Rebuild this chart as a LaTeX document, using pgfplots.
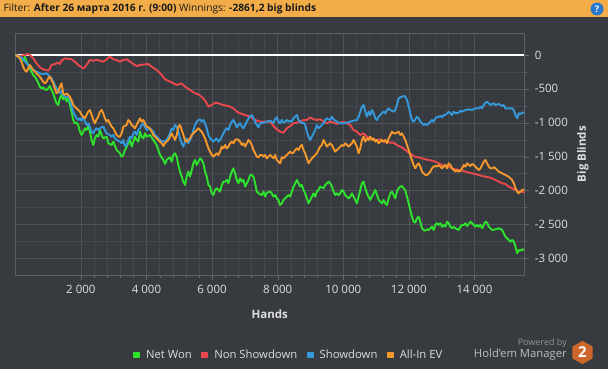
\documentclass[border=0pt]{standalone}
\usepackage{pgfplots}
\pgfplotsset{compat=1.18}
\usepackage{fontspec}
\setmainfont{Open Sans}
\definecolor{bg}{RGB}{55,58,62}
\definecolor{gridmin}{RGB}{68,71,75}
\definecolor{gridmaj}{RGB}{80,83,87}
\definecolor{framec}{RGB}{92,95,99}
\definecolor{tickc}{RGB}{100,103,107}
\definecolor{labc}{RGB}{222,222,222}
\definecolor{hdr}{RGB}{242,173,72}
\definecolor{hdrtext}{RGB}{25,25,25}
\definecolor{qblue}{RGB}{40,120,205}
\definecolor{greenc}{RGB}{46,226,46}
\definecolor{redc}{RGB}{234,72,76}
\definecolor{bluec}{RGB}{52,152,219}
\definecolor{orangec}{RGB}{244,152,45}
\definecolor{logoc}{RGB}{204,102,43}
\definecolor{poweredc}{RGB}{150,150,150}
\definecolor{hmc}{RGB}{190,190,190}
\begin{document}
\begin{tikzpicture}[x=1pt,y=1pt]
\path[use as bounding box] (0,0) rectangle (608,369);
\fill[bg] (0,0) rectangle (608,369);
\fill[hdr] (0,352) rectangle (608,369);
\node[anchor=west, text=hdrtext, font=\fontsize{10.2}{12}\selectfont, inner sep=0pt] at (3.5,360.5) {Filter: \textbf{After 26 марта 2016 г. (9:00)} Winnings: \textbf{-2861,2 big blinds}};
\fill[qblue] (597,360) circle (6.5);
\node[text=white, font=\bfseries\fontsize{9}{9}\selectfont, inner sep=0pt] at (597,360) {?};
\begin{axis}[
  at={(15.3pt,94pt)}, anchor=south west,
  scale only axis, width=509pt, height=241.7pt,
  xmin=0, xmax=15520, ymin=-3246, ymax=320,
  scaled x ticks=false, scaled y ticks=false,
  axis background/.style={fill=bg},
  axis line style={draw=framec},
  xtick={2000,4000,...,14000},
  xticklabels={2 000,4 000,6 000,8 000,10 000,12 000,14 000},
  ytick={-3000,-2500,...,0},
  yticklabels={-3 000,-2 500,-2 000,-1 500,-1 000,-500,0},
  minor x tick num=4, minor y tick num=1,
  grid=both,
  major grid style={draw=gridmaj},
  minor grid style={draw=gridmin},
  tick align=outside, xtick pos=left, ytick pos=right,
  yticklabel pos=right,
  major tick length=5pt, minor tick length=3pt,
  tick style={draw=tickc},
  ticklabel style={font=\fontsize{11.5}{13}\selectfont, text=labc},
  xticklabel style={anchor=center, yshift=-9pt},
  yticklabel style={anchor=west, xshift=2pt},
  xlabel={Hands},
  xlabel style={font=\bfseries\fontsize{11.5}{13}\selectfont, text=labc, at={(axis description cs:0.5,-0.1614)}, anchor=center},
  ylabel={Big Blinds},
  ylabel style={font=\bfseries\fontsize{11.5}{13}\selectfont, text=labc, at={(axis description cs:1.1153,0.5)}, anchor=center},
  legend columns=4,
  legend cell align=left,
  legend style={at={(axis description cs:0.2312,-0.331)}, anchor=west, draw=none, fill=none, inner sep=0pt,
    font=\fontsize{11.3}{13}\selectfont, text=labc, nodes={inner xsep=0pt},
    /tikz/every odd column/.append style={column sep=6pt},
    /tikz/every even column/.append style={column sep=9.5pt}},
  legend image code/.code={\fill[#1] (0pt,-2.5pt) rectangle (5pt,2.5pt);},
  every axis plot/.append style={line width=1.9pt, line join=round, mark=none},
]
\addplot[white, line width=2.2pt, forget plot] coordinates {(0,0) (15520,0)};
% Net Won
\addplot[greenc] coordinates {
(0,0) (87,-25) (188,-49) (239,-84) (290,-25) (341,-99) (392,-148) (443,-197) (494,-246) (545,-295) (596,-320) (646,-359) (697,-408) (748,-467) (799,-492) (850,-477) (901,-507) (952,-517) (1003,-492) (1054,-458) (1105,-517) (1155,-566) (1206,-640) (1257,-713) (1308,-738) (1359,-640) (1410,-590) (1461,-654) (1512,-615) (1563,-689) (1614,-640) (1664,-738) (1715,-836) (1766,-959) (1817,-1008) (1868,-998) (1919,-1033) (1970,-1131) (2021,-1180) (2072,-1131) (2123,-1082) (2173,-1107) (2224,-1048) (2275,-1131) (2326,-1254) (2377,-1328) (2428,-1230) (2479,-1180) (2530,-1205) (2581,-1107) (2632,-1180) (2682,-1230) (2784,-1205) (2835,-1303) (2937,-1328) (2988,-1279) (3090,-1402) (3191,-1451) (3242,-1500) (3293,-1475) (3344,-1402) (3395,-1352) (3446,-1303) (3497,-1254) (3548,-1352) (3599,-1279) (3650,-1205) (3700,-1254) (3751,-1279)
(3801,-1131) (3852,-1205) (3903,-1230) (3954,-1156) (4005,-1205) (4106,-1180) (4208,-1254) (4310,-1328) (4361,-1402) (4412,-1475) (4514,-1549) (4565,-1608) (4615,-1549) (4666,-1525) (4717,-1510) (4768,-1574) (4819,-1475) (4870,-1451) (4921,-1500) (4972,-1623) (5023,-1721) (5074,-1795) (5124,-1869) (5175,-1918) (5226,-1795) (5277,-1721) (5328,-1795) (5379,-1697) (5430,-1598) (5481,-1549) (5532,-1623) (5583,-1574) (5633,-1525) (5684,-1549) (5735,-1598) (5786,-1721) (5837,-1795) (5888,-1918) (5939,-1942) (5990,-2041) (6041,-2066) (6092,-1992) (6142,-1967) (6244,-2016) (6295,-1918) (6346,-1869) (6397,-1869) (6448,-1844) (6499,-1893) (6550,-1795) (6601,-1721) (6651,-1672) (6702,-1746) (6753,-1844) (6804,-1893) (6855,-1820) (6906,-1869) (6957,-1844) (7008,-1942) (7059,-1893) (7110,-1844) (7160,-1770) (7211,-1770) (7262,-1795) (7313,-1893) (7364,-2016) (7415,-2041) (7517,-2066) (7568,-2016) (7619,-2090) (7669,-2031)
(7770,-2016) (7821,-2041) (7872,-2090) (7923,-2066) (7974,-2115) (8025,-2139) (8075,-2213) (8126,-2188) (8177,-2139) (8228,-2115) (8279,-2090) (8330,-2066) (8381,-2090) (8432,-2016) (8483,-1942) (8534,-1893) (8584,-1844) (8635,-1893) (8686,-1942) (8737,-1918) (8788,-1992) (8839,-2041) (8890,-2115) (8941,-2188) (8992,-2139) (9043,-2090) (9093,-2041) (9144,-2090) (9195,-2016) (9246,-1992) (9297,-1942) (9399,-1967) (9450,-1918) (9552,-1869) (9602,-1893) (9653,-1942) (9704,-2016) (9755,-2066) (9806,-2041) (9857,-2066) (9908,-2041) (9959,-1992) (10010,-2016) (10061,-2066) (10111,-2090) (10162,-2115) (10213,-2090) (10264,-2041) (10315,-2090) (10366,-2139) (10417,-2188) (10468,-2090) (10519,-1992) (10570,-1893) (10620,-1869) (10671,-1967) (10722,-2041) (10773,-2090) (10824,-2139) (10875,-2090) (10926,-2041) (10977,-1992) (11028,-2066) (11079,-2139) (11129,-2164) (11180,-2188) (11231,-2139) (11282,-2188) (11333,-2213) (11384,-2115) (11435,-2041) (11486,-2016) (11537,-2066)
(11586,-2115) (11637,-2016) (11688,-1967) (11739,-1942) (11790,-1933) (11841,-1967) (11891,-1992) (11942,-2090) (11993,-2188) (12044,-2287) (12095,-2385) (12146,-2459) (12197,-2473) (12248,-2410) (12299,-2385) (12349,-2459) (12400,-2557) (12451,-2582) (12502,-2592) (12553,-2572) (12604,-2582) (12655,-2557) (12706,-2533) (12757,-2582) (12808,-2508) (12858,-2483) (12909,-2508) (12960,-2483) (13011,-2533) (13062,-2508) (13113,-2533) (13164,-2459) (13215,-2483) (13266,-2533) (13317,-2557) (13367,-2533) (13418,-2557) (13520,-2582) (13571,-2533) (13622,-2508) (13673,-2508) (13724,-2483) (13775,-2523) (13826,-2493) (13876,-2459) (13927,-2483) (13978,-2508) (14029,-2533) (14080,-2508) (14131,-2533) (14182,-2508) (14233,-2557) (14284,-2508) (14335,-2459) (14385,-2473) (14436,-2533) (14487,-2557) (14538,-2582) (14640,-2572) (14742,-2557) (14844,-2582) (14894,-2631) (14945,-2680) (14996,-2705) (15047,-2729) (15098,-2754) (15149,-2729) (15200,-2754) (15251,-2828) (15302,-2926) (15353,-2877) (15403,-2887) (15454,-2867) (15520,-2877)
};
\addlegendentry{Net Won}
% Non Showdown
\addplot[redc] coordinates {
(0,0) (137,-15) (290,0) (392,14) (443,0) (545,-49) (646,-123) (748,-182) (850,-212) (952,-222) (1003,-231) (1054,-197) (1105,-148) (1206,-133) (1308,-113) (1359,-133) (1410,-84) (1512,-49) (1614,-59) (1715,-64) (1817,-99) (1919,-148) (2021,-182) (2092,-197) (2173,-148) (2275,-74) (2377,-84) (2479,-74) (2581,-84) (2682,-99) (2784,-64) (2886,-25) (2988,-64) (3090,-74) (3191,-99) (3293,-74) (3395,-64) (3497,-99) (3599,-133) (3700,-163)
(3801,-148) (4056,-133) (4157,-172) (4310,-222) (4463,-295) (4565,-359) (4717,-394) (4819,-418) (4921,-443) (5074,-418) (5175,-467) (5328,-517) (5481,-566) (5583,-580) (5735,-640) (5837,-713) (5888,-762) (5990,-738) (6092,-703) (6193,-713) (6346,-738) (6499,-753) (6651,-787) (6753,-836) (6855,-861) (7008,-885) (7160,-910) (7313,-959) (7466,-984) (7619,-984)
(7770,-984) (7872,-1048) (7974,-1097) (8075,-1131) (8177,-1146) (8279,-1082) (8381,-1048) (8483,-1008) (8584,-998) (8686,-984) (8788,-959) (8890,-959) (8992,-920) (9093,-949) (9195,-959) (9297,-949) (9399,-984) (9501,-1008) (9602,-984) (9704,-998) (9806,-1018) (9908,-998) (10010,-984) (10111,-1008) (10213,-1033) (10315,-1107) (10417,-1131) (10519,-1180) (10620,-1156) (10722,-1205) (10824,-1230) (10926,-1254) (11028,-1254) (11129,-1244) (11231,-1279) (11333,-1279) (11435,-1293) (11537,-1293)
(11586,-1313) (11688,-1343) (11790,-1362) (11891,-1402) (11993,-1441) (12095,-1475) (12197,-1500) (12299,-1510) (12400,-1525) (12502,-1539) (12604,-1549) (12706,-1559) (12808,-1574) (12909,-1598) (13011,-1623) (13113,-1638) (13215,-1647) (13317,-1672) (13418,-1687) (13520,-1697) (13622,-1706) (13724,-1721) (13826,-1736) (13927,-1746) (14029,-1756) (14131,-1770) (14233,-1785) (14335,-1795) (14436,-1805) (14538,-1820) (14640,-1844) (14742,-1869) (14844,-1893) (14945,-1903) (15047,-1942) (15149,-1967) (15251,-1992) (15353,-2016) (15454,-2016) (15520,-2031)
};
\addlegendentry{Non Showdown}
% Showdown
\addplot[bluec] coordinates {
(0,0) (137,-25) (239,-64) (341,-123) (443,-172) (545,-222) (646,-246) (748,-271) (850,-285) (952,-271) (1003,-295) (1054,-320) (1105,-344) (1155,-394) (1206,-443) (1257,-492) (1308,-541) (1359,-566) (1410,-526) (1461,-590) (1512,-615) (1563,-625) (1614,-605) (1664,-640) (1715,-762) (1766,-836) (1817,-885) (1868,-934) (1919,-959) (1970,-934) (2021,-969) (2072,-910) (2123,-984) (2173,-1033) (2224,-1008) (2275,-1067) (2326,-1131) (2377,-1156) (2428,-1107) (2479,-1082) (2530,-1107) (2581,-1082) (2632,-1067) (2682,-1057) (2733,-1107) (2784,-1156) (2886,-1180) (2937,-1205) (2988,-1180) (3039,-1230) (3090,-1254) (3191,-1279) (3242,-1303) (3293,-1254) (3344,-1343) (3395,-1328) (3446,-1254) (3497,-1205) (3548,-1230) (3599,-1156) (3650,-1131) (3700,-1180) (3751,-1107)
(3801,-1082) (3852,-1033) (3903,-1008) (3954,-1067) (4005,-1107) (4106,-1082) (4208,-1131) (4259,-1180) (4310,-1205) (4412,-1254) (4514,-1279) (4615,-1254) (4717,-1156) (4768,-1082) (4819,-1107) (4870,-1033) (4921,-1057) (4972,-1131) (5023,-1230) (5074,-1303) (5124,-1352) (5175,-1279) (5226,-1230) (5277,-1303) (5328,-1254) (5379,-1205) (5430,-1107) (5481,-1033) (5532,-984) (5583,-959) (5633,-949) (5684,-984) (5735,-959) (5786,-1008) (5837,-1082) (5888,-1180) (5939,-1230) (5990,-1254) (6041,-1279) (6092,-1254) (6142,-1230) (6193,-1279) (6244,-1254) (6295,-1205) (6346,-1156) (6397,-1107) (6448,-1082) (6499,-1107) (6550,-1033) (6601,-984) (6651,-959) (6702,-1008) (6753,-1067) (6804,-1033) (6855,-1008) (6906,-1057) (6957,-1082) (7008,-1033) (7059,-984) (7110,-934) (7160,-910) (7211,-885) (7262,-934) (7313,-984) (7364,-1033) (7415,-1067) (7466,-1008) (7568,-998) (7669,-984)
(7770,-969) (7821,-984) (7872,-998) (7923,-949) (7974,-920) (8025,-984) (8075,-1008) (8126,-959) (8177,-998) (8228,-984) (8279,-959) (8330,-984) (8381,-969) (8432,-984) (8483,-934) (8534,-910) (8584,-885) (8635,-959) (8686,-984) (8737,-1008) (8788,-998) (8839,-1033) (8890,-1131) (8941,-1205) (8992,-1254) (9043,-1205) (9093,-1156) (9144,-1107) (9195,-1033) (9246,-1082) (9297,-1057) (9348,-1033) (9399,-1008) (9450,-959) (9501,-934) (9602,-959) (9653,-910) (9704,-949) (9806,-984) (9908,-1008) (10010,-1008) (10111,-998) (10213,-984) (10315,-969) (10417,-959) (10468,-910) (10519,-836) (10570,-762) (10620,-738) (10671,-836) (10722,-910) (10773,-836) (10824,-885) (10875,-812) (10926,-861) (10977,-934) (11028,-959) (11079,-910) (11129,-885) (11231,-836) (11282,-861) (11333,-812) (11384,-787) (11435,-812) (11537,-836)
(11586,-812) (11637,-738) (11688,-640) (11739,-625) (11790,-615) (11841,-605) (11891,-615) (11942,-664) (11993,-762) (12044,-861) (12095,-959) (12146,-984) (12197,-949) (12248,-910) (12299,-934) (12349,-984) (12400,-1008) (12451,-1033) (12502,-1018) (12553,-1033) (12604,-1008) (12655,-984) (12706,-959) (12757,-984) (12808,-934) (12858,-920) (12909,-910) (12960,-900) (13011,-920) (13062,-885) (13113,-885) (13164,-861) (13215,-836) (13266,-861) (13317,-885) (13367,-836) (13418,-861) (13520,-851) (13571,-822) (13622,-836) (13724,-812) (13826,-802) (13927,-812) (14029,-787) (14131,-787) (14182,-762) (14233,-787) (14284,-738) (14335,-703) (14385,-689) (14436,-713) (14487,-738) (14538,-723) (14589,-713) (14640,-738) (14742,-723) (14844,-753) (14894,-738) (14945,-787) (15047,-787) (15149,-787) (15200,-812) (15251,-885) (15302,-934) (15353,-861) (15403,-871) (15454,-851) (15520,-851)
};
\addlegendentry{Showdown}
% All-In EV
\addplot[orangec] coordinates {
(0,0) (87,-25) (137,-49) (188,-99) (239,-172) (290,-222) (341,-246) (392,-197) (443,-148) (494,-182) (545,-222) (596,-246) (646,-271) (748,-320) (850,-394) (901,-418) (952,-394) (1003,-344) (1054,-320) (1105,-369) (1155,-418) (1206,-492) (1257,-566) (1308,-541) (1359,-467) (1410,-418) (1461,-566) (1512,-590) (1563,-566) (1614,-590) (1664,-615) (1715,-664) (1766,-738) (1817,-762) (1868,-787) (1919,-812) (1970,-836) (2021,-885) (2072,-910) (2123,-934) (2173,-885) (2224,-836) (2275,-812) (2326,-885) (2377,-959) (2428,-1008) (2479,-949) (2530,-910) (2581,-836) (2632,-812) (2682,-861) (2733,-934) (2784,-984) (2835,-959) (2886,-1008) (2937,-1057) (2988,-1082) (3039,-1131) (3090,-1180) (3140,-1205) (3191,-1205) (3242,-1156) (3293,-1057) (3344,-1048) (3395,-1033) (3446,-959) (3497,-984) (3548,-1033) (3599,-1057) (3650,-1082) (3700,-1033) (3751,-984)
(3801,-934) (3852,-984) (3903,-959) (3954,-1008) (4005,-1057) (4056,-1067) (4106,-1082) (4157,-1131) (4208,-1180) (4259,-1205) (4310,-1230) (4361,-1254) (4412,-1279) (4463,-1303) (4514,-1343) (4565,-1303) (4615,-1279) (4666,-1254) (4717,-1205) (4768,-1156) (4819,-1205) (4870,-1254) (4921,-1180) (4972,-1057) (5023,-1033) (5074,-1107) (5124,-1180) (5175,-1254) (5226,-1279) (5277,-1254) (5328,-1230) (5379,-1180) (5430,-1156) (5481,-1131) (5532,-1107) (5583,-1082) (5633,-1107) (5684,-1131) (5735,-1180) (5786,-1230) (5837,-1303) (5888,-1377) (5939,-1426) (5990,-1475) (6041,-1500) (6092,-1475) (6142,-1451) (6193,-1475) (6244,-1426) (6295,-1352) (6346,-1377) (6397,-1328) (6448,-1377) (6499,-1352) (6550,-1303) (6601,-1279) (6651,-1303) (6702,-1254) (6753,-1244) (6804,-1254) (6855,-1279) (6906,-1328) (6957,-1303) (7008,-1352) (7059,-1303) (7110,-1254) (7160,-1279) (7211,-1328) (7262,-1402) (7313,-1451) (7364,-1500) (7415,-1510) (7466,-1475) (7517,-1475) (7568,-1500) (7619,-1475) (7669,-1525)
(7770,-1475) (7821,-1500) (7872,-1525) (7923,-1475) (7974,-1549) (8025,-1574) (8075,-1598) (8126,-1510) (8177,-1525) (8228,-1500) (8279,-1475) (8330,-1451) (8381,-1426) (8432,-1451) (8483,-1441) (8534,-1402) (8584,-1377) (8635,-1402) (8686,-1352) (8737,-1328) (8788,-1402) (8839,-1451) (8890,-1525) (8941,-1598) (8992,-1559) (9043,-1525) (9093,-1500) (9144,-1475) (9195,-1451) (9246,-1402) (9297,-1352) (9348,-1328) (9399,-1254) (9450,-1303) (9501,-1352) (9552,-1328) (9602,-1303) (9653,-1328) (9704,-1377) (9755,-1426) (9806,-1402) (9857,-1377) (9908,-1352) (9959,-1328) (10010,-1343) (10061,-1303) (10111,-1328) (10162,-1352) (10213,-1328) (10264,-1303) (10315,-1254) (10366,-1303) (10417,-1352) (10468,-1451) (10519,-1377) (10570,-1254) (10620,-1205) (10671,-1279) (10722,-1230) (10773,-1254) (10824,-1205) (10875,-1254) (10926,-1230) (10977,-1279) (11028,-1254) (11079,-1303) (11129,-1279) (11180,-1254) (11231,-1279) (11282,-1254) (11333,-1303) (11384,-1230) (11435,-1180) (11486,-1131) (11537,-1156)
(11586,-1156) (11637,-1146) (11688,-1131) (11739,-1180) (11790,-1156) (11841,-1205) (11891,-1254) (11942,-1328) (11993,-1402) (12044,-1475) (12095,-1549) (12146,-1623) (12197,-1672) (12248,-1623) (12299,-1598) (12349,-1647) (12400,-1721) (12451,-1746) (12502,-1770) (12553,-1770) (12604,-1746) (12655,-1721) (12706,-1672) (12757,-1647) (12808,-1638) (12858,-1647) (12909,-1623) (12960,-1647) (13011,-1672) (13062,-1647) (13113,-1623) (13164,-1672) (13215,-1598) (13266,-1623) (13317,-1672) (13367,-1697) (13418,-1721) (13469,-1697) (13520,-1721) (13571,-1706) (13622,-1672) (13673,-1623) (13724,-1647) (13775,-1598) (13826,-1623) (13876,-1638) (13927,-1608) (13978,-1623) (14029,-1647) (14080,-1672) (14131,-1697) (14182,-1672) (14233,-1623) (14284,-1574) (14335,-1549) (14385,-1598) (14436,-1647) (14487,-1672) (14538,-1672) (14589,-1657) (14640,-1672) (14691,-1697) (14742,-1721) (14844,-1746) (14945,-1770) (14996,-1785) (15047,-1795) (15098,-1820) (15149,-1844) (15200,-1893) (15251,-1967) (15302,-2016) (15353,-2041) (15403,-2016) (15454,-1992) (15520,-1982)
};
\addlegendentry{All-In EV}
\end{axis}
\fill[logoc] (582.5,16.5) +(90:11.7) -- +(150:11.7) -- +(210:11.7) -- +(270:11.7) -- +(330:11.7) -- +(30:11.7) -- cycle;
\node[text=white, font=\bfseries\fontsize{15}{15}\selectfont, inner sep=0pt] at (582.5,16.5) {2};
\node[anchor=east, text=poweredc, font=\fontsize{9}{10}\selectfont, inner sep=0pt] at (567,25.5) {Powered by};
\node[anchor=east, text=hmc, font=\fontsize{11.3}{12}\selectfont, inner sep=0pt] at (567,14) {Hold'em Manager};
\end{tikzpicture}
\end{document}
